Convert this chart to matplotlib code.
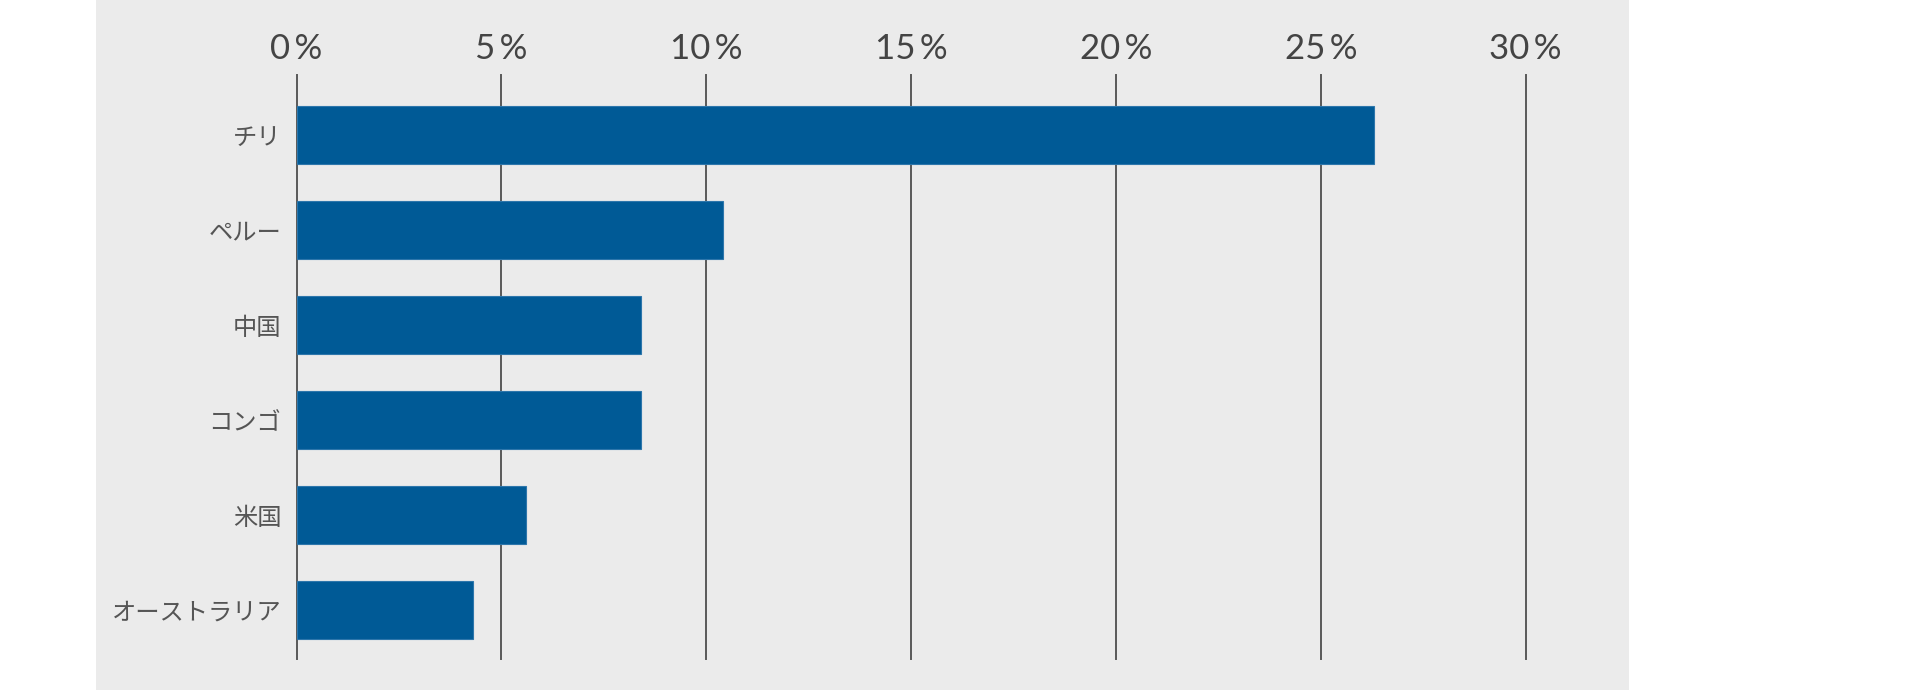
import matplotlib
matplotlib.use("Agg")
import matplotlib.pyplot as plt
from matplotlib.patches import Rectangle

# data
countries = ["チリ", "ペルー", "中国", "コンゴ", "米国", "オーストラリア"]
shares = [26.3, 10.4, 8.4, 8.4, 5.6, 4.3]
ticks = [0, 5, 10, 15, 20, 25, 30]
tick_labels = [f"{t}\u2009%" for t in ticks]

BAR = "#005a96"; PANEL = "#ebebeb"; GRID = "#585858"; TXT = "#444444"; YTXT = "#555555"
W, H = 1920, 690
plt.rcParams["font.family"] = ["Noto Sans CJK JP", "DejaVu Sans"]

fig = plt.figure(figsize=(W / 100, H / 100), dpi=100, facecolor="white")
fig.patches.append(Rectangle((95.5 / W, 0), (1628.6 - 95.5) / W, 1, transform=fig.transFigure,
                             facecolor=PANEL, edgecolor="none", zorder=-5))

ax = fig.add_axes([296.5 / W, 31 / H, (1525.7 - 296.5) / W, (659 - 75) / H])
ax.set_zorder(2)
ax.set_facecolor("none")
ax.barh(range(len(countries)), shares, height=0.61, color=BAR, edgecolor="#2d76ab", linewidth=0.8, zorder=3)
ax.set_xlim(ticks[0], ticks[-1])
ax.set_ylim(5.518, -0.629)

ax.xaxis.tick_top()
ax.set_xticks(ticks)
ax.set_xticklabels(tick_labels, fontsize=25, color=TXT, family=["Lato", "DejaVu Sans"])
ax.set_yticks(range(len(countries)))
ax.set_yticklabels(countries, fontsize=17.5, color=YTXT)
ax.tick_params(axis="x", length=0, pad=7.5)
ax.tick_params(axis="y", length=0, pad=11)
for s in ax.spines.values():
    s.set_visible(False)

ax.grid(axis="x", color=GRID, linewidth=1.4, zorder=1)
ax.grid(axis="y", visible=False)
ax.set_axisbelow(True)
for gl in ax.get_xgridlines():
    gl.set_clip_on(False)

fig.savefig("out.png", dpi=100, facecolor="white")
